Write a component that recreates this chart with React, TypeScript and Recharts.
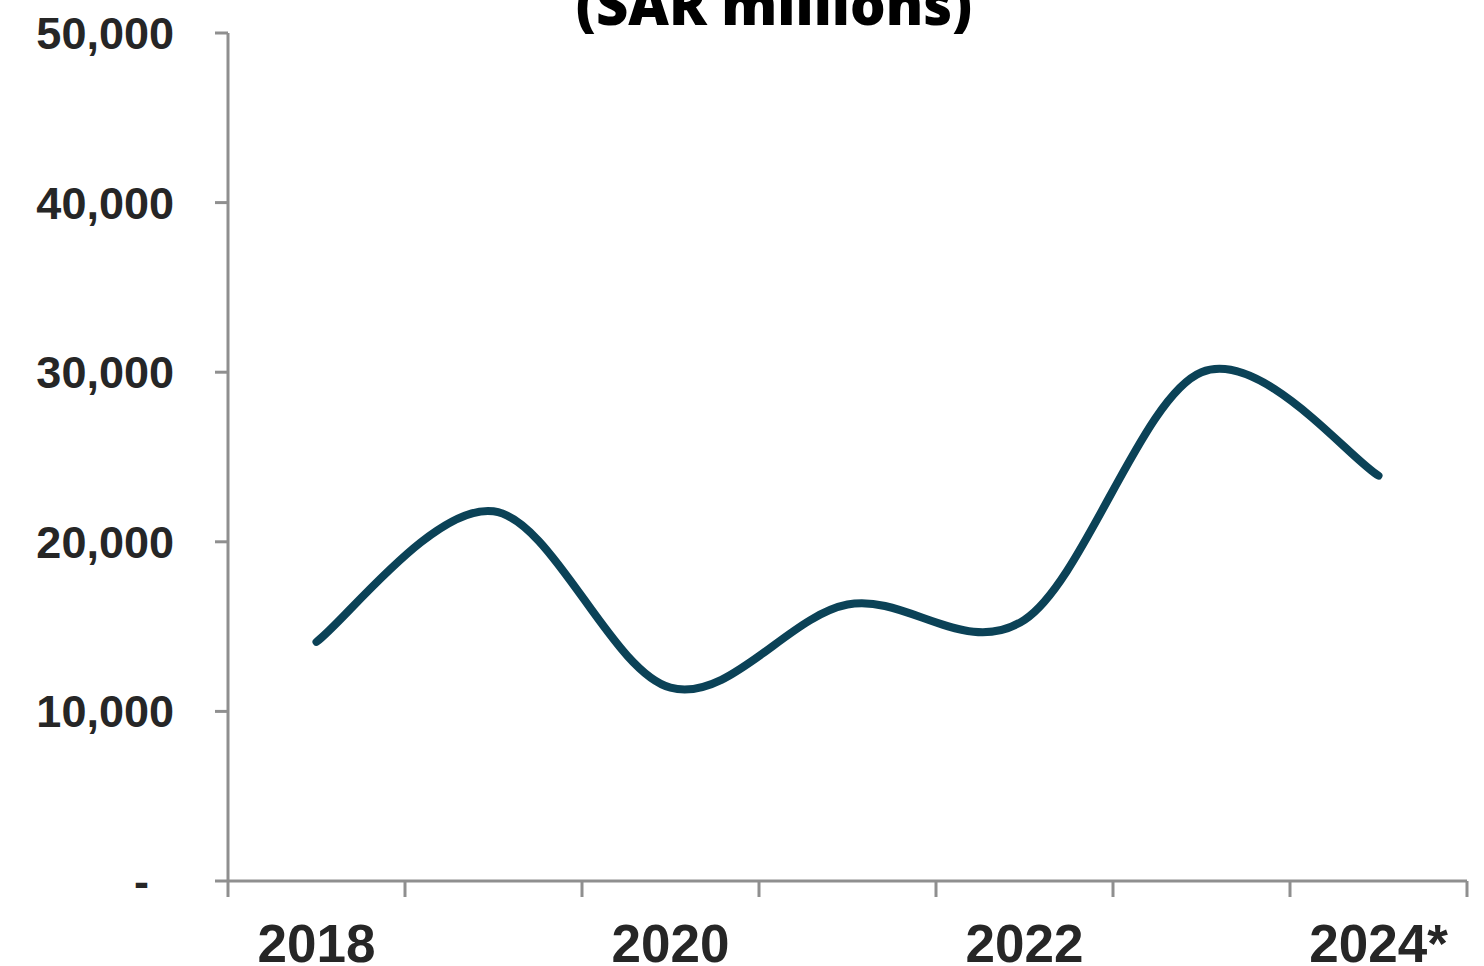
import { LineChart, Line, XAxis, YAxis } from 'recharts'

const years = ['2018', '2019', '2020', '2021', '2022', '2023', '2024*']
const values = [14100, 21800, 11400, 16300, 15400, 30000, 23900]
const yTicks = [0, 10000, 20000, 30000, 40000, 50000]
const labelledYears = ['2018', '2020', '2022', '2024*']

const W = 1484
const H = 966
const Y_AXIS_W = 228
const RIGHT = 17
const TOP = 33
const X_AXIS_H = 85
const HALF_BAND = (W - Y_AXIS_W - RIGHT) / years.length / 2

const AXIS = '#8f8f8f'
const TEXT = '#262626'
const LINE = '#0b4257'

const data = years.map((year, i) => ({ year, value: values[i] }))

// Excel-style smoothed line (Catmull-Rom through the points)
function smoothCurve(context: any) {
  let pts: [number, number][] = []
  return {
    areaStart() {},
    areaEnd() {},
    lineStart() {
      pts = []
    },
    lineEnd() {
      if (!pts.length) return
      context.moveTo(pts[0][0], pts[0][1])
      for (let i = 0; i < pts.length - 1; i++) {
        const p0 = pts[Math.max(i - 1, 0)]
        const p1 = pts[i]
        const p2 = pts[i + 1]
        const p3 = pts[Math.min(i + 2, pts.length - 1)]
        context.bezierCurveTo(
          p1[0] + (p2[0] - p0[0]) / 6,
          p1[1] + (p2[1] - p0[1]) / 6,
          p2[0] - (p3[0] - p1[0]) / 6,
          p2[1] - (p3[1] - p1[1]) / 6,
          p2[0],
          p2[1]
        )
      }
    },
    point(x: number, y: number) {
      pts.push([x, y])
    },
  }
}

function YearTick(props: any) {
  const { x, y, payload, index } = props
  const last = index === years.length - 1
  return (
    <g>
      <line x1={x - HALF_BAND} x2={x - HALF_BAND} y1={y} y2={y + 16} stroke={AXIS} strokeWidth={3} />
      {last && <line x1={x + HALF_BAND} x2={x + HALF_BAND} y1={y} y2={y + 16} stroke={AXIS} strokeWidth={3} />}
      {labelledYears.includes(payload.value) && (
        <text x={x} y={y + 81} textAnchor="middle" fill={TEXT} fontSize={53} fontWeight="bold" fontFamily="'Liberation Sans', Arial, sans-serif">
          {payload.value}
        </text>
      )}
    </g>
  )
}

const fmtY = (v: number) => (v === 0 ? '-\u00A0\u00A0' : v.toLocaleString('en-US'))

export default function App() {
  return (
    <div style={{ position: 'absolute', left: 0, top: 0, width: W, height: H, background: '#fff' }}>
      <LineChart width={W} height={H} data={data} margin={{ top: TOP, right: RIGHT, bottom: 0, left: 0 }}>
        <XAxis
          dataKey="year"
          height={X_AXIS_H}
          padding={{ left: HALF_BAND, right: HALF_BAND }}
          interval={0}
          tickLine={false}
          tickSize={0}
          tickMargin={0}
          tick={<YearTick />}
          axisLine={{ stroke: AXIS, strokeWidth: 3 }}
        />
        <YAxis
          width={Y_AXIS_W}
          domain={[0, 50000]}
          ticks={yTicks}
          interval={0}
          tickFormatter={fmtY}
          tickSize={13}
          tickMargin={41}
          axisLine={{ stroke: AXIS, strokeWidth: 3 }}
          tickLine={{ stroke: AXIS, strokeWidth: 3 }}
          tick={{ fill: TEXT, fontSize: 45, fontWeight: 'bold', fontFamily: "'Liberation Sans', Arial, sans-serif" }}
        />
        <Line
          type={smoothCurve as any}
          dataKey="value"
          stroke={LINE}
          strokeWidth={8}
          strokeLinecap="round"
          dot={false}
          activeDot={false}
          isAnimationActive={false}
        />
      </LineChart>
      <svg width={W} height={H} style={{ position: 'absolute', left: 0, top: 0, pointerEvents: 'none' }}>
        <text x={774} y={25} textAnchor="middle" fontSize={56} fontWeight={800} fontFamily="'Open Sans', sans-serif" fill="#000">
          (SAR millions)
        </text>
      </svg>
    </div>
  )
}
